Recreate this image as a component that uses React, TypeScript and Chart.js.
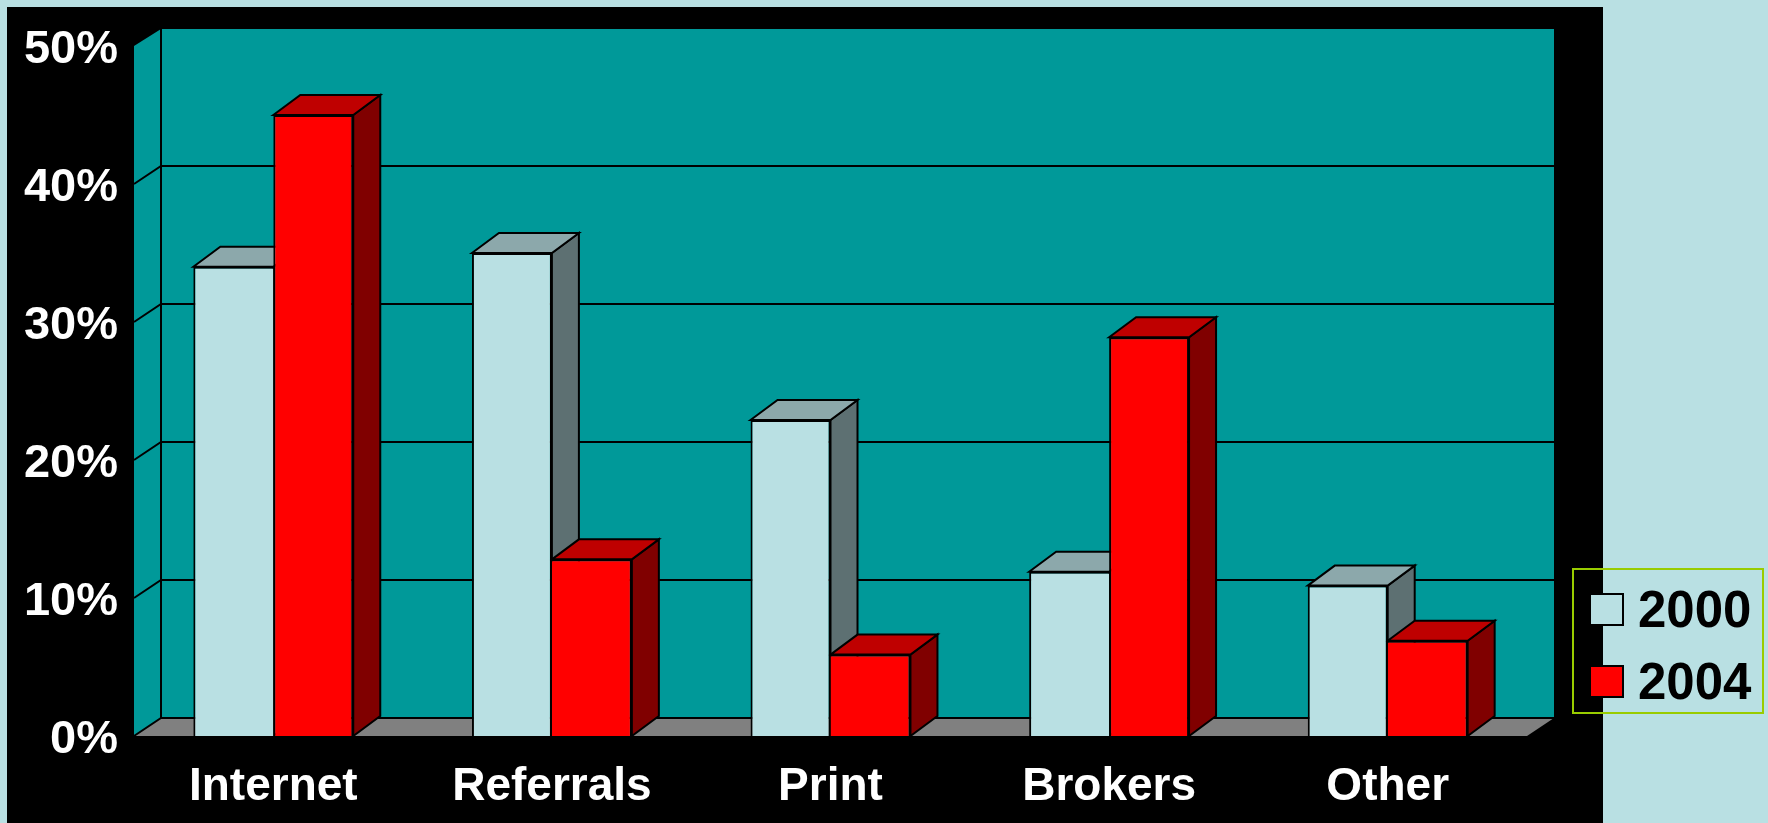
import React, { useEffect, useRef } from "react";
import { Chart, registerables } from "chart.js";

Chart.register(...registerables);

const categories = ["Internet", "Referrals", "Print", "Brokers", "Other"];
const values2000 = [34, 35, 22.9, 11.9, 10.9];
const values2004 = [45, 12.8, 5.9, 28.9, 6.9];
const tickValues = [0, 10, 20, 30, 40, 50];

const PAGE_BG = "#B9E0E3";
const PANEL_BG = "#000000";
const WALL = "#009999";
const FLOOR = "#808080";
const LIGHT = ["#B9E0E3", "#8CA8AB", "#5D7072"];
const RED = ["#FF0000", "#BF0000", "#800000"];
const FONT = "'Liberation Sans', Arial, sans-serif";

const WALL_DX = 27;
const WALL_DY = 18;
const BAR_DX = 27;
const BAR_DY = 20;

function polygon(ctx: CanvasRenderingContext2D, pts: number[][], fill: string, stroke?: string) {
  ctx.beginPath();
  pts.forEach(([x, y], i) => (i ? ctx.lineTo(x, y) : ctx.moveTo(x, y)));
  ctx.closePath();
  ctx.fillStyle = fill;
  ctx.fill();
  if (stroke) {
    ctx.strokeStyle = stroke;
    ctx.lineWidth = 2;
    ctx.stroke();
  }
}

function segment(ctx: CanvasRenderingContext2D, pts: number[][]) {
  ctx.beginPath();
  pts.forEach(([x, y], i) => (i ? ctx.lineTo(x, y) : ctx.moveTo(x, y)));
  ctx.strokeStyle = "#000000";
  ctx.lineWidth = 2;
  ctx.stroke();
}

// Page background, black panel, and the three-dimensional walls with gridlines.
const roomPlugin = {
  id: "room",
  beforeDraw(chart: any) {
    const { ctx, width, height, chartArea, scales } = chart;
    const { left, right, top, bottom } = chartArea;
    ctx.save();
    ctx.fillStyle = PAGE_BG;
    ctx.fillRect(0, 0, width, height);
    ctx.fillStyle = PANEL_BG;
    ctx.fillRect(7, 7, 1596, height - 7);

    const bl = left + WALL_DX;
    const br = right + WALL_DX;
    const bt = top - WALL_DY + 1;
    const bb = bottom - WALL_DY;
    polygon(ctx, [[bl, bt], [br, bt], [br, bb], [bl, bb]], WALL);
    polygon(ctx, [[left, top], [bl, bt], [bl, bb], [left, bottom]], WALL);
    polygon(ctx, [[left, bottom], [bl, bb], [br, bb], [right, bottom]], FLOOR);

    for (const v of tickValues) {
      const y = scales.y.getPixelForValue(v);
      if (v === 50) continue;
      segment(ctx, [[left, y], [bl, y - WALL_DY], [br, y - WALL_DY]]);
    }
    segment(ctx, [[bl, bt], [bl, bb]]);
    ctx.restore();
  },
  // Top and side faces of the bars; the library paints the front faces over them.
  beforeDatasetsDraw(chart: any) {
    const { ctx } = chart;
    ctx.save();
    ctx.lineJoin = "miter";
    chart.data.datasets.forEach((ds: any, i: number) => {
      const shades = i === 0 ? LIGHT : RED;
      chart.getDatasetMeta(i).data.forEach((bar: any) => {
        const l = bar.x - bar.width / 2;
        const r = bar.x + bar.width / 2;
        const t = bar.y;
        const b = bar.base;
        polygon(ctx, [[r, t], [r + BAR_DX, t - BAR_DY], [r + BAR_DX, b - BAR_DY], [r, b]], shades[2], "#000000");
        polygon(ctx, [[l, t], [l + BAR_DX, t - BAR_DY], [r + BAR_DX, t - BAR_DY], [r, t]], shades[1], "#000000");
      });
    });
    ctx.restore();
  },
  // Legend box straddling the panel edge.
  afterDraw(chart: any) {
    const { ctx } = chart;
    ctx.save();
    ctx.strokeStyle = "#99CC00";
    ctx.lineWidth = 2;
    ctx.strokeRect(1573, 569, 190, 144);
    const rows = [594, 666];
    chart.data.datasets.forEach((ds: any, i: number) => {
      ctx.fillStyle = ds.backgroundColor;
      ctx.fillRect(1590, rows[i], 33, 31);
      ctx.strokeStyle = "#000000";
      ctx.lineWidth = 2;
      ctx.strokeRect(1590, rows[i], 33, 31);
      ctx.fillStyle = "#000000";
      ctx.font = `bold 51px ${FONT}`;
      ctx.textBaseline = "middle";
      ctx.textAlign = "left";
      ctx.fillText(ds.label, 1638, rows[i] + 19);
    });
    ctx.restore();
  },
};

// The taller bar of each pair owns the shared edge, so it stays a single line.
const edges = (own: number[], other: number[], side: "left" | "right") => (c: any) => {
  const i = c.dataIndex;
  const owns = side === "right" ? own[i] >= other[i] : own[i] > other[i];
  return {
    top: 2,
    bottom: 0,
    left: side === "left" ? (owns ? 2 : 0) : 2,
    right: side === "right" ? (owns ? 2 : 0) : 2,
  };
};

export default function App() {
  const ref = useRef<HTMLCanvasElement>(null);
  useEffect(() => {
    const chart = new Chart(ref.current!, {
      type: "bar",
      data: {
        labels: categories,
        datasets: [
          {
            label: "2000",
            data: values2000,
            backgroundColor: LIGHT[0],
            borderColor: "#000000",
            borderWidth: edges(values2000, values2004, "right"),
            borderSkipped: false,
          },
          {
            label: "2004",
            data: values2004,
            backgroundColor: RED[0],
            borderColor: "#000000",
            borderWidth: edges(values2004, values2000, "left"),
            borderSkipped: false,
          },
        ],
      },
      options: {
        responsive: false,
        animation: false,
        layout: { padding: { left: 0, right: 241, top: 46, bottom: 0 } },
        plugins: { legend: { display: false }, tooltip: { enabled: false } },
        datasets: { bar: { barPercentage: 1, categoryPercentage: 0.574 } },
        scales: {
          x: {
            grid: { display: false },
            border: { display: false },
            afterFit: (s: any) => {
              s.height = 87;
            },
            ticks: {
              color: "#FFFFFF",
              padding: 16,
              maxRotation: 0,
              font: { family: FONT, weight: "bold", size: 46 },
            },
          },
          y: {
            min: 0,
            max: 50,
            grid: { display: false, drawTicks: false },
            border: { display: false },
            afterFit: (s: any) => {
              s.width = 134;
            },
            afterBuildTicks: (s: any) => {
              s.ticks = tickValues.map((value) => ({ value }));
            },
            ticks: {
              color: "#FFFFFF",
              padding: 16,
              labelOffset: 4,
              callback: (v: any) => `${v}%`,
              font: { family: FONT, weight: "bold", size: 47 },
            },
          },
        },
      },
      plugins: [roomPlugin],
    } as any);
    return () => chart.destroy();
  }, []);
  return (
    <div style={{ position: "absolute", left: 0, top: 0, width: 1768, height: 823, overflow: "hidden" }}>
      <canvas ref={ref} width={1768} height={823} style={{ display: "block" }} />
    </div>
  );
}
